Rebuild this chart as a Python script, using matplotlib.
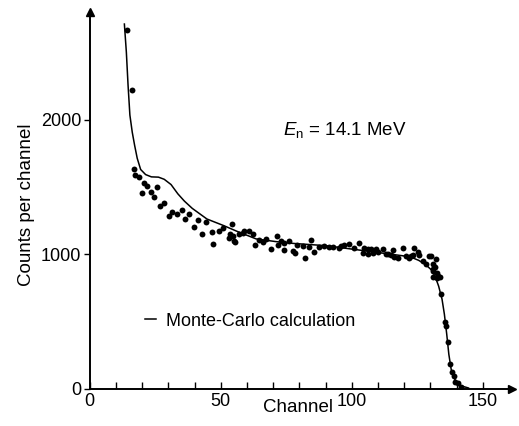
import matplotlib
matplotlib.use("Agg")
import matplotlib.pyplot as plt

# Measured spectrum (dots): channel, counts per channel
channel_pts = [14.3, 16.0, 16.7, 17.4, 18.9, 19.8, 20.7, 21.8, 23.3, 24.4,
               25.6, 26.9, 28.5, 30.2, 31.4, 33.3, 35.2, 36.2, 37.8, 39.9,
               41.2, 42.9, 44.2, 46.7, 46.9, 49.4, 51.0, 53.2, 53.5, 54.1,
               54.7, 55.0, 55.4, 57.0, 58.6, 59.0, 60.9, 62.4, 63.0, 64.6,
               66.1, 67.3, 69.0, 71.5, 71.8, 73.0, 74.0, 74.1, 76.0, 77.4,
               78.2, 79.0, 81.3, 82.3, 83.6, 84.5, 85.4, 87.6, 89.3, 91.3,
               92.8, 95.0, 95.8, 97.0, 98.9, 100.8, 102.8, 104.2, 104.6, 106.0,
               106.1, 107.3, 108.0, 109.2, 109.9, 111.9, 112.9, 113.7, 114.8, 115.7,
               115.9, 117.5, 119.5, 120.5, 121.7, 122.5, 123.2, 123.7, 125.2, 125.5,
               127.0, 128.1, 129.3, 130.1, 130.8, 130.9, 131.0, 131.1, 131.8, 132.0,
               132.4, 132.5, 132.9, 133.6, 134.1, 135.6, 135.9, 136.8, 137.6, 138.3,
               139.0, 139.3, 140.4, 141.5]
counts_pts = [2665, 2219, 1632, 1587, 1572, 1452, 1526, 1510, 1464, 1427,
              1499, 1358, 1379, 1288, 1317, 1301, 1329, 1262, 1297, 1200,
              1251, 1153, 1240, 1165, 1075, 1170, 1198, 1123, 1152, 1225,
              1136, 1099, 1091, 1149, 1155, 1170, 1176, 1152, 1070, 1106,
              1090, 1111, 1036, 1138, 1071, 1100, 1032, 1084, 1097, 1022,
              1006, 1066, 1063, 974, 1054, 1106, 1016, 1055, 1058, 1056,
              1055, 1046, 1060, 1066, 1080, 1049, 1084, 1009, 1046, 1000,
              1037, 1036, 1006, 1042, 1019, 1040, 1002, 1001, 993, 1029,
              978, 976, 1049, 989, 973, 987, 994, 1046, 1015, 992,
              947, 931, 989, 989, 929, 833, 877, 892, 906, 965,
              824, 861, 838, 830, 704, 495, 465, 346, 182, 123,
              93, 55, 47, 16]

# Monte-Carlo calculation (solid line)
mc_channel = [13.2, 13.95, 14.6, 15.3, 16.2, 17.1, 18.1, 19.4, 21.3, 23.5,
              26.2, 28.4, 31.0, 33.6, 36.1, 39.1, 44.7, 51.1, 56.0, 63.5,
              71.1, 77.5, 90.1, 106.5, 119.4, 122.4, 125.5, 128.1, 130.3, 131.7,
              133.1, 134.4, 135.3, 136.2, 137.0, 137.9, 139.3, 141.5, 144.5]
mc_counts = [2710, 2502, 2257, 2034, 1907, 1810, 1713, 1630, 1592, 1575,
             1573, 1557, 1518, 1449, 1395, 1341, 1262, 1213, 1172, 1114,
             1094, 1081, 1064, 1022, 989, 980, 955, 924, 885, 839,
             764, 667, 555, 406, 257, 145, 70, 24, 7]

x_major = [0, 50, 100, 150]
x_minor = list(range(0, 151, 10))
y_major = [0, 1000, 2000]

plt.rcParams["font.family"] = ["Liberation Sans", "DejaVu Sans"]
plt.rcParams["mathtext.fontset"] = "custom"
plt.rcParams["mathtext.it"] = "Liberation Sans:italic"
plt.rcParams["mathtext.rm"] = "Liberation Sans"

fig = plt.figure(figsize=(5.19, 4.26), dpi=100)
ax = fig.add_axes([0.173, 0.087, 0.813, 0.885])

ax.plot(mc_channel, mc_counts, color="black", lw=1.1, label="Monte-Carlo calculation",
        solid_joinstyle="round")
ax.scatter(channel_pts, counts_pts, s=18, color="black", linewidths=0, zorder=3)

ax.set_xlim(0, 161)
ax.set_ylim(0, 2800)

for side in ("top", "right"):
    ax.spines[side].set_visible(False)
for side in ("left", "bottom"):
    ax.spines[side].set_linewidth(1.4)

ax.set_xticks(x_major)
ax.set_xticks(x_minor, minor=True)
ax.tick_params(axis="x", which="both", direction="in", length=5, width=1,
               labelsize=13, pad=3)
ax.set_yticks(y_major)
ax.tick_params(axis="y", direction="out", length=4, width=1, labelsize=13, pad=2)
for lab in ax.get_xticklabels() + ax.get_yticklabels():
    lab.set_fontfamily(["Liberation Sans Narrow", "Liberation Sans"])

# axis arrowheads
ax.plot(1, 0, marker=">", ms=6, color="black", transform=ax.transAxes, clip_on=False)
ax.plot(0, 1, marker="^", ms=6, color="black", transform=ax.transAxes, clip_on=False)

ax.set_xlabel("Channel", fontsize=13.5)
ax.xaxis.set_label_coords(0.493, -0.028)
ax.set_ylabel("Counts per channel", fontsize=13.5)
ax.yaxis.set_label_coords(-0.13, 0.488)

ax.text(0.457, 0.687, r"$E_\mathrm{n}$ = 14.1 MeV", transform=ax.transAxes,
        fontsize=13.5, va="center", ha="left")

ax.legend(loc="center left", bbox_to_anchor=(0.279, 0.246),
          bbox_transform=fig.transFigure, frameon=False, fontsize=13,
          handlelength=0.6, handletextpad=0.6, borderpad=0, borderaxespad=0)

fig.savefig("out.png", dpi=100)
